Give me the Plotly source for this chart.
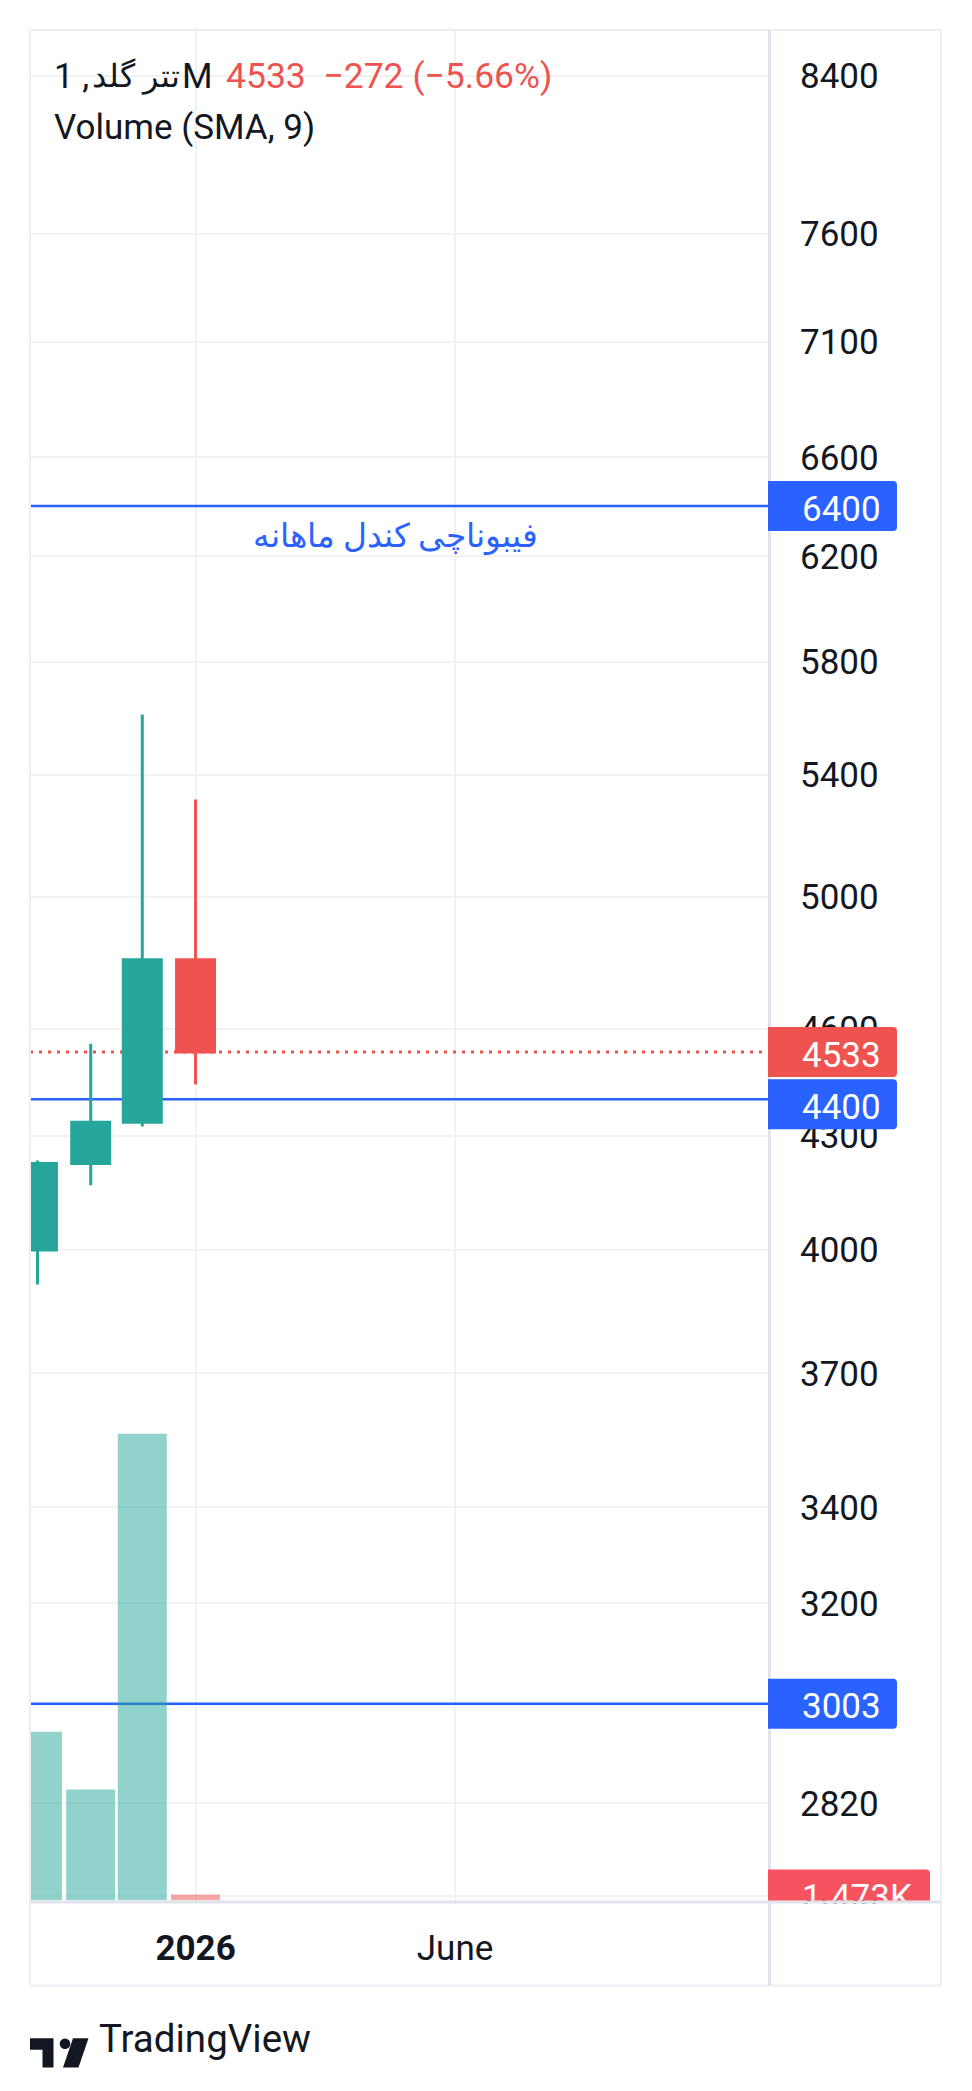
import plotly.graph_objects as go

# the browser puts 8px of body margin around the plot div;
# SY corrects a small vertical squeeze seen in the captured picture
OFF = 8
SY = 1.008
W, H = 972 - 2 * OFF, 2070

# monthly candles (tether gold, 1M)
months = ['2025-10-01', '2025-11-01', '2025-12-01', '2026-01-01']
opens = [4000, 4225, 4336, 4805]
highs = [4233, 4557, 5610, 5317]
lows = [3914, 4167, 4325, 4441]
closes = [4225, 4336, 4805, 4533]
volumes = [41500, 27300, 114800, 1473]

price_ticks = [2660, 2820, 3000, 3200, 3400, 3700, 4000, 4300, 4600,
               5000, 5400, 5800, 6200, 6600, 7100, 7600, 8400]
fib_levels = [6400, 4400, 3003]
time_ticks = ['2026-01-01', '2026-06-01']
time_labels = ['<b>2026</b>', 'June']

GREEN = '#26a69a'
RED = '#ef5350'
BLUE = '#2962ff'
TEXT = '#131722'
GRID = '#f1f2f4'
FONT = 'Roboto'

X_RANGE = ['2025-09-26 16:00', '2026-11-30 03:00']


# screen pixel -> paper fraction
def fx(px):
    return (px - OFF) / W


def fy(py):
    return 1 - (py * SY - OFF) / H


fig = go.Figure()

vol_colors = [('rgba(38,166,154,0.5)' if c >= o else 'rgba(239,83,80,0.5)')
              for o, c in zip(opens, closes)]
fig.add_trace(go.Bar(
    x=months, y=volumes, yaxis='y2',
    width=[28.5 * 86400000] * len(months),
    marker=dict(color=vol_colors, line_width=0),
    hoverinfo='skip', showlegend=False
))

fig.add_trace(go.Candlestick(
    x=months, open=opens, high=highs, low=lows, close=closes,
    increasing=dict(line=dict(color=GREEN, width=3), fillcolor=GREEN),
    decreasing=dict(line=dict(color=RED, width=3), fillcolor=RED),
    whiskerwidth=0, showlegend=False, hoverinfo='skip'
))

shapes = []
# fibonacci lines
for lv in fib_levels:
    shapes.append(dict(type='line', xref='x', yref='y', x0=X_RANGE[0], x1=X_RANGE[1],
                       y0=lv, y1=lv, line=dict(color=BLUE, width=2.5),
                       layer='between'))
# last price dotted line
shapes.append(dict(type='line', xref='x', yref='y', x0=X_RANGE[0], x1=X_RANGE[1],
                   y0=closes[-1], y1=closes[-1],
                   line=dict(color=RED, width=3, dash='3px,6px'),
                   layer='between'))

# blank the price scale below the pane (under the time axis)
shapes.append(dict(type='rect', xref='paper', yref='paper',
                   x0=fx(771), x1=fx(940), y0=fy(1904), y1=fy(1985),
                   fillcolor='white', line_width=0, layer='above'))

# frame and separators
frame = '#eceef2'
sep = '#e0e3eb'
for x0, y0, x1, y1, c, w in [
    (30, 30, 941, 30, frame, 2), (30, 1986, 941, 1986, frame, 2),
    (30, 30, 30, 1986, frame, 2), (941, 30, 941, 1986, frame, 2),
    (769.5, 30, 769.5, 1986, sep, 3), (30, 1902.5, 941, 1902.5, sep, 3),
]:
    shapes.append(dict(type='line', xref='paper', yref='paper',
                       x0=fx(x0), x1=fx(x1), y0=fy(y0), y1=fy(y1),
                       line=dict(color=c, width=w), layer='above'))


def price_box(yref, yval, color, text, width=129, shift=0):
    h, r = 25, 4
    t, b = h + shift, -h + shift
    path = (f'M0,{t} H{width - r} Q{width},{t} {width},{t - r} '
            f'V{b + r} Q{width},{b} {width - r},{b} H0 Z')
    return dict(type='path', xref='paper', yref=yref,
                xsizemode='pixel', ysizemode='pixel',
                xanchor=fx(768), yanchor=yval, path=path,
                fillcolor=color, line_width=0, layer='above',
                label=dict(text=text, textposition='middle left', padding=31,
                           font=dict(family=FONT, size=35, color='white')))


shapes.append(price_box('y', fib_levels[0], BLUE, str(fib_levels[0])))
shapes.append(price_box('y', fib_levels[2], BLUE, str(fib_levels[2])))
shapes.append(price_box('y', closes[-1], RED, str(closes[-1])))
shapes.append(price_box('y', fib_levels[1], BLUE, str(fib_levels[1]), shift=-5))
shapes.append(price_box('y2', volumes[-1], '#f7525f',
                        f'{volumes[-1] / 1000:.3f}K', width=162))


# TradingView logo, drawn in screen pixels
def pxpath(pts):
    return 'M' + ' L'.join(f'{x - OFF},{-(y * SY - OFF)}' for x, y in pts) + ' Z'


logo = dict(xref='paper', yref='paper', xsizemode='pixel', ysizemode='pixel',
            xanchor=0, yanchor=1, fillcolor=TEXT, line_width=0, layer='above')
shapes.append(dict(type='path', path=pxpath([(30, 2022), (53.5, 2022), (53.5, 2051),
                                              (42.5, 2051), (42.5, 2033.5), (30, 2033.5)]), **logo))
shapes.append(dict(type='circle', x0=59.7 - OFF, x1=70.3 - OFF,
                   y0=-(2022.2 * SY - OFF), y1=-(2032.8 * SY - OFF), **logo))
shapes.append(dict(type='path', path=pxpath([(73, 2022), (88.5, 2022),
                                              (78.5, 2051), (63, 2051)]), **logo))

change = closes[-1] - opens[-1]
pct = change / opens[-1] * 100
hdr = dict(family=FONT, size=35, color=TEXT)
# symbol title laid out piece by piece in its on-screen (bidi) order
annotations = [
    dict(text='1 ,', x=fx(53), y=fy(76), xanchor='left', yanchor='middle', font=hdr),
    dict(text='تتر گلد', x=fx(181), y=fy(76), xanchor='right', yanchor='middle',
         font=dict(family=FONT, size=32, color=TEXT)),
    dict(text='M', x=fx(181), y=fy(76), xanchor='left', yanchor='middle', font=hdr),
    dict(text=f'{closes[-1]}  \u2212{abs(change)} (\u2212{abs(pct):.2f}%)',
         x=fx(225), y=fy(76), xanchor='left', yanchor='middle',
         font=dict(family=FONT, size=35.5, color=RED)),
    dict(text='Volume (SMA, 9)', x=fx(53), y=fy(127), xanchor='left', yanchor='middle',
         font=hdr),
    dict(text='فیبوناچی کندل ماهانه', x=fx(395), y=fy(537), xanchor='center',
         yanchor='middle', font=dict(family=FONT, size=32.5, color=BLUE)),
    dict(text='TradingView', x=fx(98), y=fy(2039), xanchor='left', yanchor='middle',
         font=dict(family=FONT, size=38.5, color=TEXT)),
]
for a in annotations:
    a.update(xref='paper', yref='paper', showarrow=False, borderpad=0)

fig.update_layout(
    width=W, height=H,
    margin=dict(l=0, r=0, t=0, b=0),
    paper_bgcolor='white', plot_bgcolor='white',
    boxgap=0.263, boxgroupgap=0,
    showlegend=False,
    shapes=shapes, annotations=annotations,
    xaxis=dict(
        type='date', domain=[fx(30), fx(768)],
        range=X_RANGE,
        tickvals=time_ticks, ticktext=time_labels,
        tickfont=dict(family=FONT, size=35, color=TEXT),
        ticks='', ticklabelstandoff=23,
        showgrid=True, gridcolor=GRID, gridwidth=2,
        zeroline=False, showline=False,
        rangeslider=dict(visible=False), fixedrange=True
    ),
    yaxis=dict(
        type='log', side='right', domain=[fy(1901), fy(30)],
        range=[3.4236, 3.93676],
        tickvals=price_ticks, ticktext=[str(v) for v in price_ticks],
        tickfont=dict(family=FONT, size=35, color=TEXT),
        ticks='', ticklabelstandoff=31,
        showgrid=True, gridcolor=GRID, gridwidth=2,
        zeroline=False, showline=False, fixedrange=True
    ),
    yaxis2=dict(
        overlaying='y', range=[0, 460000], visible=False, fixedrange=True
    ),
)

fig.write_html('out.html', config={'displayModeBar': False})
